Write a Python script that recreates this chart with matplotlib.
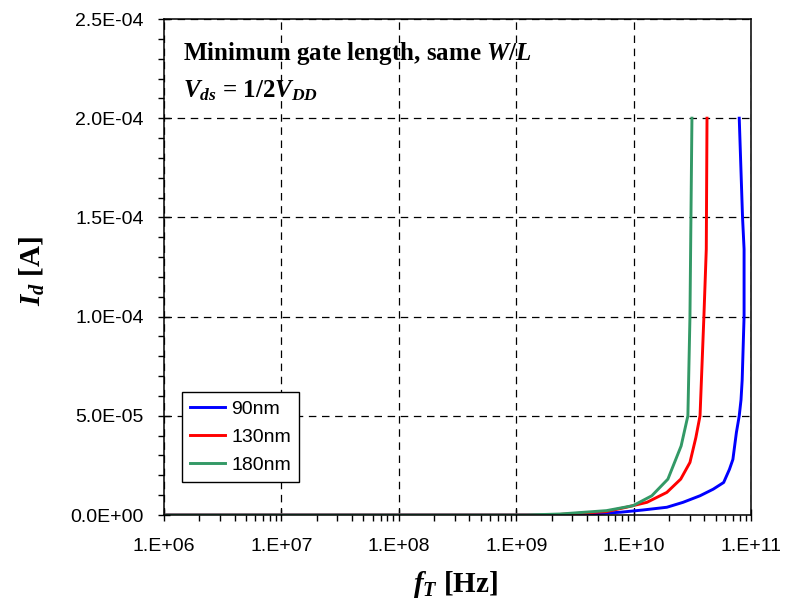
import numpy as np
import matplotlib
matplotlib.use('Agg')
import matplotlib.pyplot as plt
from matplotlib.ticker import FixedLocator, FuncFormatter, LogLocator, MultipleLocator

plt.rcParams['font.family'] = 'Liberation Sans'
plt.rcParams['mathtext.fontset'] = 'custom'
plt.rcParams['mathtext.rm'] = 'Liberation Serif:bold'
plt.rcParams['mathtext.it'] = 'Liberation Serif:italic:bold'
plt.rcParams['mathtext.bf'] = 'Liberation Serif:bold'

# fT [Hz] vs Id [A]
f_90 = [1e6, 3.1e9, 7.73e9, 1.19e10, 1.92e10, 2.64e10, 3.68e10, 4.76e10, 5.85e10, 6.55e10,
        7.01e10, 7.51e10, 7.94e10, 8.22e10, 8.41e10, 8.73e10, 8.73e10, 8.47e10, 7.94e10]
id_90 = [0, 0, 1.4e-6, 2.5e-6, 3.9e-6, 6.4e-6, 9.7e-6, 1.3e-5, 1.64e-5, 2.3e-5,
         2.8e-5, 4.16e-5, 5e-5, 5.8e-5, 6.8e-5, 1e-4, 1.34e-4, 1.5e-4, 2e-4]

f_130 = [1e6, 1.97e9, 5.87e9, 8.65e9, 1.30e10, 1.92e10, 2.52e10, 3.02e10, 3.39e10, 3.68e10,
         3.97e10, 4.16e10, 4.22e10]
id_130 = [0, 0, 1.7e-6, 3.9e-6, 6.4e-6, 1.14e-5, 1.81e-5, 2.65e-5, 3.9e-5, 5e-5,
          1e-4, 1.34e-4, 2e-4]

f_180 = [1e6, 1.22e9, 2.37e9, 5.87e9, 9.89e9, 1.43e10, 1.96e10, 2.54e10, 2.90e10, 3.02e10, 3.14e10]
id_180 = [0, 0, 5e-7, 2.2e-6, 4.7e-6, 9.7e-6, 1.81e-5, 3.48e-5, 5e-5, 1e-4, 2e-4]

x_ticks = [1e6, 1e7, 1e8, 1e9, 1e10, 1e11]
y_ticks = [0, 5e-5, 1e-4, 1.5e-4, 2e-4, 2.5e-4]

fig = plt.figure(figsize=(7.94, 6), dpi=100)
ax = fig.add_axes([164/794, 1-515/600, 587/794, 496/600])

ax.plot(f_90, id_90, color='#0000FF', lw=2.1, label='90nm')
ax.plot(f_130, id_130, color='#FF0000', lw=2.1, label='130nm')
ax.plot(f_180, id_180, color='#339966', lw=2.1, label='180nm')

ax.set_xscale('log')
ax.set_xlim(1e6, 1e11)
ax.set_ylim(0, 2.5e-4)
ax.xaxis.set_major_locator(FixedLocator(x_ticks))
ax.xaxis.set_minor_locator(LogLocator(base=10, subs=np.arange(2, 10)))
ax.xaxis.set_major_formatter(FuncFormatter(lambda v, p: '1.E+%02d' % round(np.log10(v))))
ax.xaxis.set_minor_formatter(FuncFormatter(lambda v, p: ''))
ax.yaxis.set_major_locator(FixedLocator(y_ticks))
ax.yaxis.set_minor_locator(MultipleLocator(1e-5))
ax.yaxis.set_major_formatter(FuncFormatter(lambda v, p: '%.1E' % v))

ax.tick_params(which='major', direction='inout', length=9, width=1, labelsize=14)
ax.tick_params(axis='x', which='major', pad=12)
ax.tick_params(axis='y', which='major', pad=10)
ax.tick_params(which='minor', direction='out', length=4, width=1)
for s in ax.spines.values():
    s.set_linewidth(1.1)

ax.grid(True, which='major', color='black', ls=(0, (6, 4.5)), lw=0.9)

fig.text(456/794, 1-584/600, r'$f_T$ [Hz]', fontsize=21, family='Liberation Serif',
         weight='bold', ha='center', va='center')
fig.text(32/794, 1-271/600, r'$I_d$ [A]', fontsize=21, family='Liberation Serif',
         weight='bold', ha='center', va='center', rotation=90)

ax.text(0.032, 0.917, r'Minimum gate length, same $W/L$', transform=ax.transAxes,
        fontsize=18, family='Liberation Serif', weight='bold', va='baseline')
ax.text(0.032, 0.841, r'$V_{ds}$ = 1/2$V_{DD}$', transform=ax.transAxes,
        fontsize=18, family='Liberation Serif', weight='bold', va='baseline')

leg = ax.legend(loc='lower left', bbox_to_anchor=(0.0307, 0.0665), fontsize=14,
                fancybox=False, framealpha=1, edgecolor='black', borderaxespad=0,
                handlelength=1.8, handletextpad=0.35, labelspacing=0.55, borderpad=0.4)
leg.get_frame().set_linewidth(1)

fig.savefig('out.png', dpi=100)
